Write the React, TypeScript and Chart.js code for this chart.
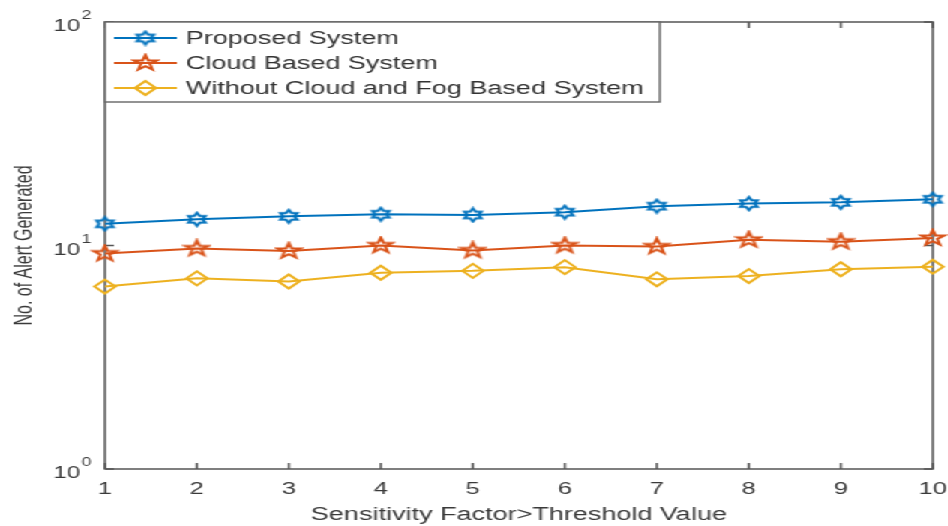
import React, { useEffect, useRef } from "react";
import { Chart, registerables } from "chart.js";

Chart.register(...registerables);

// ---- data ----
const xValues = [1, 2, 3, 4, 5, 6, 7, 8, 9, 10];
const proposedSystem = [12.5, 13.1, 13.5, 13.8, 13.7, 14.1, 15.0, 15.4, 15.6, 16.1];
const cloudBasedSystem = [9.2, 9.7, 9.45, 10.0, 9.5, 10.0, 9.9, 10.6, 10.4, 10.8];
const withoutCloudFogSystem = [6.55, 7.13, 6.9, 7.55, 7.7, 8.0, 7.06, 7.3, 7.83, 8.04];
const seriesLabels = [
  "Proposed System",
  "Cloud Based System",
  "Without Cloud and Fog Based System",
];
const yTickValues = [1, 10, 100];
const xTitle = "Sensitivity Factor>Threshold Value";
const yTitle = "No. of Alert Generated";

// ---- styles ----
const BLUE = "#0072BD";
const RED = "#D95319";
const YELLOW = "#EDB120";
const FONT = "'Liberation Sans', Arial, Helvetica, sans-serif";
const TEXT = "#3a3a3a";
const AXIS = "#555555";
const STRETCH = 1.5;
const INNER_W = 632;
const INNER_H = 526;

function starCanvas(points: number, outerR: number, innerR: number, color: string, lw: number) {
  const pad = 2;
  const size = Math.ceil(outerR * 2 + pad * 2);
  const c = document.createElement("canvas");
  c.width = size;
  c.height = size;
  const ctx = c.getContext("2d")!;
  const cx = size / 2;
  const cy = size / 2;
  ctx.beginPath();
  for (let i = 0; i < points * 2; i++) {
    const r = i % 2 === 0 ? outerR : innerR;
    const a = -Math.PI / 2 + (i * Math.PI) / points;
    const px = cx + r * Math.cos(a);
    const py = cy + r * Math.sin(a);
    if (i === 0) ctx.moveTo(px, py);
    else ctx.lineTo(px, py);
  }
  ctx.closePath();
  ctx.strokeStyle = color;
  ctx.lineWidth = lw;
  ctx.lineJoin = "miter";
  ctx.stroke();
  return c;
}

const boxPlugin = {
  id: "matlabBox",
  beforeDatasetsDraw(chart: any) {
    const { ctx, chartArea: a, scales } = chart;
    ctx.save();
    ctx.strokeStyle = AXIS;
    ctx.lineWidth = 1.5;
    ctx.strokeRect(a.left, a.top, a.right - a.left, a.bottom - a.top);
    // inward ticks
    const xs = scales.x;
    ctx.beginPath();
    xs.ticks.forEach((t: any) => {
      const px = xs.getPixelForValue(t.value);
      ctx.moveTo(px, a.bottom);
      ctx.lineTo(px, a.bottom - 6);
      ctx.moveTo(px, a.top);
      ctx.lineTo(px, a.top + 6);
    });
    const ys = scales.y;
    ys.ticks.forEach((t: any) => {
      const py = ys.getPixelForValue(t.value);
      ctx.moveTo(a.left, py);
      ctx.lineTo(a.left + 6, py);
      ctx.moveTo(a.right, py);
      ctx.lineTo(a.right - 6, py);
    });
    ctx.stroke();
    ctx.restore();
  },
  afterDraw(chart: any) {
    const { ctx, chartArea: a, scales } = chart;
    // y tick labels as 10^n
    const ys = scales.y;
    ctx.save();
    ctx.fillStyle = TEXT;
    ctx.textBaseline = "middle";
    ys.ticks.forEach((t: any) => {
      const py = ys.getPixelForValue(t.value);
      const exp = String(Math.round(Math.log10(t.value)));
      const right = a.left - 9;
      ctx.font = `12px ${FONT}`;
      ctx.textAlign = "right";
      const ew = ctx.measureText(exp).width;
      ctx.fillText(exp, right, py - 6);
      ctx.font = `16px ${FONT}`;
      ctx.fillText("10", right - ew - 1, py + 5);
    });
    ctx.restore();

    // legend
    const lx = a.left;
    const ly = a.top;
    const lw = 370;
    const lh = 80;
    ctx.save();
    ctx.fillStyle = "#ffffff";
    ctx.fillRect(lx, ly, lw, lh);
    ctx.strokeStyle = "#666666";
    ctx.lineWidth = 1.4;
    ctx.strokeRect(lx, ly, lw, lh);
    chart.data.datasets.forEach((ds: any, i: number) => {
      const ry = ly + 16 + i * 25;
      ctx.strokeStyle = ds.borderColor;
      ctx.lineWidth = ds.borderWidth;
      ctx.beginPath();
      ctx.moveTo(lx + 6, ry);
      ctx.lineTo(lx + 48, ry);
      ctx.stroke();
      const mx = lx + 27;
      if (typeof ds.pointStyle === "string") {
        const r = ds.pointRadius;
        ctx.beginPath();
        ctx.moveTo(mx, ry - r);
        ctx.lineTo(mx + r, ry);
        ctx.lineTo(mx, ry + r);
        ctx.lineTo(mx - r, ry);
        ctx.closePath();
        ctx.lineWidth = ds.pointBorderWidth;
        ctx.strokeStyle = ds.borderColor;
        ctx.stroke();
      } else {
        const img = ds.pointStyle as HTMLCanvasElement;
        ctx.drawImage(img, mx - img.width / 2, ry - img.height / 2);
      }
      ctx.fillStyle = "#333333";
      ctx.font = `18px ${FONT}`;
      ctx.textAlign = "left";
      ctx.textBaseline = "middle";
      ctx.fillText(ds.label, lx + 54, ry + 1);
    });
    ctx.restore();
  },
};

export default function App() {
  const ref = useRef<HTMLCanvasElement | null>(null);

  useEffect(() => {
    document.body.style.margin = "0";
    const canvas = ref.current!;
    const hex = starCanvas(6, 6.5, 3.75, BLUE, 2);
    const pent = starCanvas(5, 8, 3.2, RED, 2);
    const toPts = (arr: number[]) => xValues.map((x, i) => ({ x, y: arr[i] }));
    const chart = new Chart(canvas, {
      type: "line",
      data: {
        datasets: [
          {
            label: seriesLabels[0],
            data: toPts(proposedSystem),
            borderColor: BLUE,
            borderWidth: 2,
            pointStyle: hex as any,
            pointRadius: 7,
            clip: false as any,
            tension: 0,
          },
          {
            label: seriesLabels[1],
            data: toPts(cloudBasedSystem),
            borderColor: RED,
            borderWidth: 2,
            pointStyle: pent as any,
            pointRadius: 8,
            clip: false as any,
            tension: 0,
          },
          {
            label: seriesLabels[2],
            data: toPts(withoutCloudFogSystem),
            borderColor: YELLOW,
            borderWidth: 2,
            pointStyle: "rectRot",
            pointRadius: 7,
            pointBorderWidth: 2,
            pointBorderColor: YELLOW,
            pointBackgroundColor: "rgba(0,0,0,0)",
            clip: false as any,
            tension: 0,
          },
        ],
      },
      options: {
        animation: false,
        responsive: false,
        devicePixelRatio: 1,
        events: [],
        layout: { padding: { top: 22, right: 10, bottom: 0, left: 0 } },
        plugins: { legend: { display: false }, tooltip: { enabled: false } },
        scales: {
          x: {
            type: "linear",
            min: 1,
            max: 10,
            afterBuildTicks: (s: any) => {
              s.ticks = xValues.map((v) => ({ value: v }));
            },
            ticks: {
              font: { family: FONT, size: 17 },
              color: TEXT,
              padding: 10,
              maxRotation: 0,
              autoSkip: false,
              callback: (v: any) => String(v),
            },
            grid: { display: false, drawTicks: false },
            border: { display: false },
            title: {
              display: true,
              text: xTitle,
              font: { family: FONT, size: 18 },
              color: TEXT,
              padding: 0,
            },
            afterFit: (s: any) => {
              s.height = 57;
              s.paddingLeft = 0;
              s.paddingRight = 0;
            },
          },
          y: {
            type: "logarithmic",
            min: 1,
            max: 100,
            afterBuildTicks: (s: any) => {
              s.ticks = yTickValues.map((v) => ({ value: v }));
            },
            ticks: { display: false },
            grid: { display: false, drawTicks: false },
            border: { display: false },
            title: {
              display: true,
              text: yTitle,
              font: { family: FONT, size: 16 },
              color: TEXT,
              padding: { top: 7, bottom: 0 },
            },
            afterFit: (s: any) => {
              s.width = 70;
              s.paddingTop = 0;
              s.paddingBottom = 0;
            },
          },
        },
      },
      plugins: [boxPlugin],
    });
    return () => chart.destroy();
  }, []);

  return (
    <div
      style={{
        position: "fixed",
        left: 0,
        top: 0,
        width: INNER_W,
        height: INNER_H,
        transform: `scaleX(${STRETCH})`,
        transformOrigin: "0 0",
        background: "#ffffff",
      }}
    >
      <canvas ref={ref} width={INNER_W} height={INNER_H} style={{ display: "block" }} />
    </div>
  );
}
